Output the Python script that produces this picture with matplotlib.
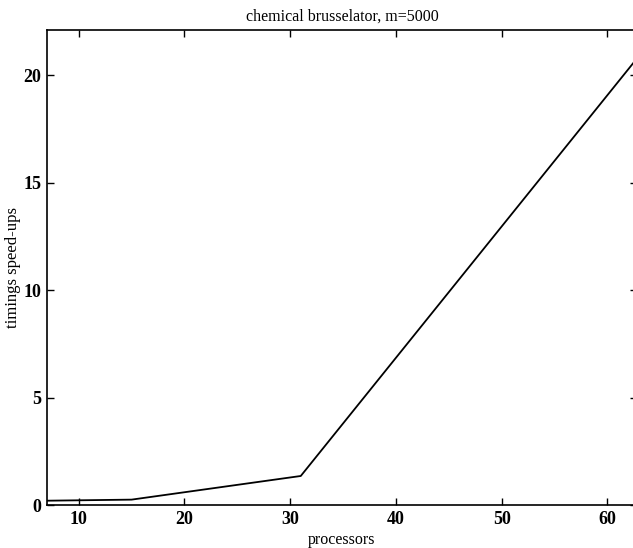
import matplotlib
matplotlib.use("Agg")
import matplotlib.pyplot as plt

# speed-up data
processors = [7, 15, 31, 63]
speedups = [0.2, 0.25, 1.35, 20.9]

x_ticks = [10, 20, 30, 40, 50, 60]
y_ticks = [0, 5, 10, 15, 20]

plt.rcParams['font.family'] = ['Liberation Serif', 'DejaVu Serif']

fig = plt.figure(figsize=(6.33, 5.48), dpi=100)
ax = fig.add_axes([47 / 633, 43 / 548, 590 / 633, 475 / 548])

ax.plot(processors, speedups, color='black', linewidth=1.3)

ax.set_xlim(7, 62.8)
ax.set_ylim(0, 22.1)
ax.set_xticks(x_ticks)
ax.set_yticks(y_ticks)
ax.tick_params(direction='in', top=True, right=True, length=5, width=1,
               labelsize=13, pad=4)
for lab in ax.get_xticklabels() + ax.get_yticklabels():
    lab.set_fontweight('bold')
for s in ax.spines.values():
    s.set_linewidth(1.2)

ax.set_title('chemical brusselator, m=5000', fontsize=11.5, pad=7)
ax.set_xlabel('processors', fontsize=11.5, labelpad=3)
ax.set_ylabel('timings speed-ups', fontsize=12, labelpad=2)

fig.savefig('out.png', dpi=100)
